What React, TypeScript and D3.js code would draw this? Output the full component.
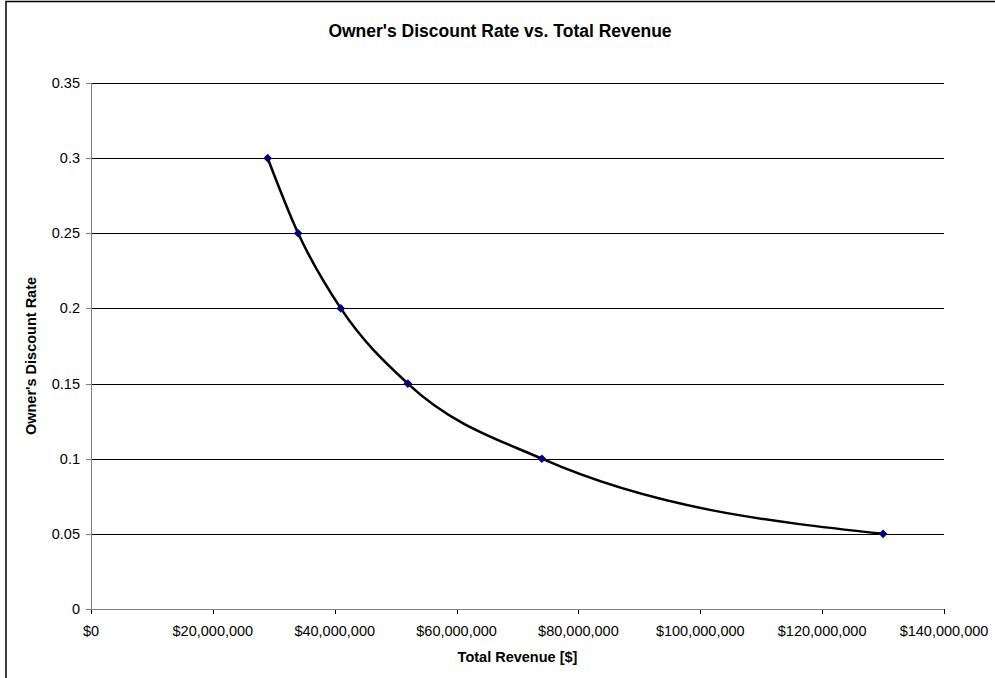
import React from "react";
import * as d3 from "d3";

const revenue = [29000000, 34000000, 41000000, 52000000, 74000000, 130000000];
const discountRate = [0.3, 0.25, 0.2, 0.15, 0.1, 0.05];
const xTicks = [0, 20000000, 40000000, 60000000, 80000000, 100000000, 120000000, 140000000];
const yTicks = [0, 0.05, 0.1, 0.15, 0.2, 0.25, 0.3, 0.35];

const W = 995;
const H = 678;
const plot = { left: 91, right: 944, top: 83, bottom: 609 };
const font = "'Liberation Sans', Arial, sans-serif";

export default function App() {
  const x = d3.scaleLinear().domain([0, 140000000]).range([plot.left, plot.right]);
  const y = d3.scaleLinear().domain([0, 0.35]).range([plot.bottom, plot.top]);
  const pts: [number, number][] = revenue.map((r, i) => [x(r), y(discountRate[i])]);
  const line = d3.line().curve(d3.curveMonotoneX)(pts) || "";
  const fmt = (v: number) => "$" + d3.format(",")(v);
  // square marker turned 45° to form an even diamond
  const marker = d3.symbol(d3.symbolSquare, 26)() || "";

  return (
    <svg
      width={W}
      height={H}
      style={{ position: "absolute", left: 0, top: 0, background: "#fff" }}
      fontFamily={font}
    >
      <rect x={6} y={1.5} width={W + 20} height={H + 20} fill="#fff" stroke="#000" strokeWidth={1.5} />
      <text x={500} y={37} textAnchor="middle" fontSize={17.5} fontWeight="bold">
        Owner's Discount Rate vs. Total Revenue
      </text>

      {yTicks.map((t) => (
        <g key={"y" + t}>
          {t > 0 && (
            <line x1={plot.left} x2={plot.right} y1={Math.round(y(t)) + 0.5} y2={Math.round(y(t)) + 0.5} stroke="#000" strokeWidth={1} />
          )}
          <line x1={plot.left - 5} x2={plot.left} y1={Math.round(y(t)) + 0.5} y2={Math.round(y(t)) + 0.5} stroke="#808080" />
          <text x={plot.left - 11} y={y(t) + 5} textAnchor="end" fontSize={14.5}>
            {String(t)}
          </text>
        </g>
      ))}
      {xTicks.map((t) => (
        <g key={"x" + t}>
          <line x1={Math.round(x(t)) + 0.5} x2={Math.round(x(t)) + 0.5} y1={plot.bottom} y2={plot.bottom + 5} stroke="#000" />
          <text x={x(t)} y={plot.bottom + 27} textAnchor="middle" fontSize={14.5}>
            {fmt(t)}
          </text>
        </g>
      ))}
      <line x1={plot.left + 0.5} x2={plot.left + 0.5} y1={plot.top} y2={plot.bottom} stroke="#808080" />
      <line x1={plot.left} x2={plot.right} y1={plot.bottom + 0.5} y2={plot.bottom + 0.5} stroke="#808080" />

      <path d={line} fill="none" stroke="#000" strokeWidth={2.5} />
      {pts.map(([px, py], i) => (
        <path key={i} d={marker} transform={`translate(${px},${py}) rotate(45)`} fill="#000080" stroke="#000080" strokeWidth={1} />
      ))}

      <text x={(plot.left + plot.right) / 2} y={662} textAnchor="middle" fontSize={14.5} fontWeight="bold">
        Total Revenue [$]
      </text>
      <text
        transform={`translate(36,356) rotate(-90)`}
        textAnchor="middle"
        fontSize={14.5}
        fontWeight="bold"
      >
        Owner's Discount Rate
      </text>
    </svg>
  );
}
